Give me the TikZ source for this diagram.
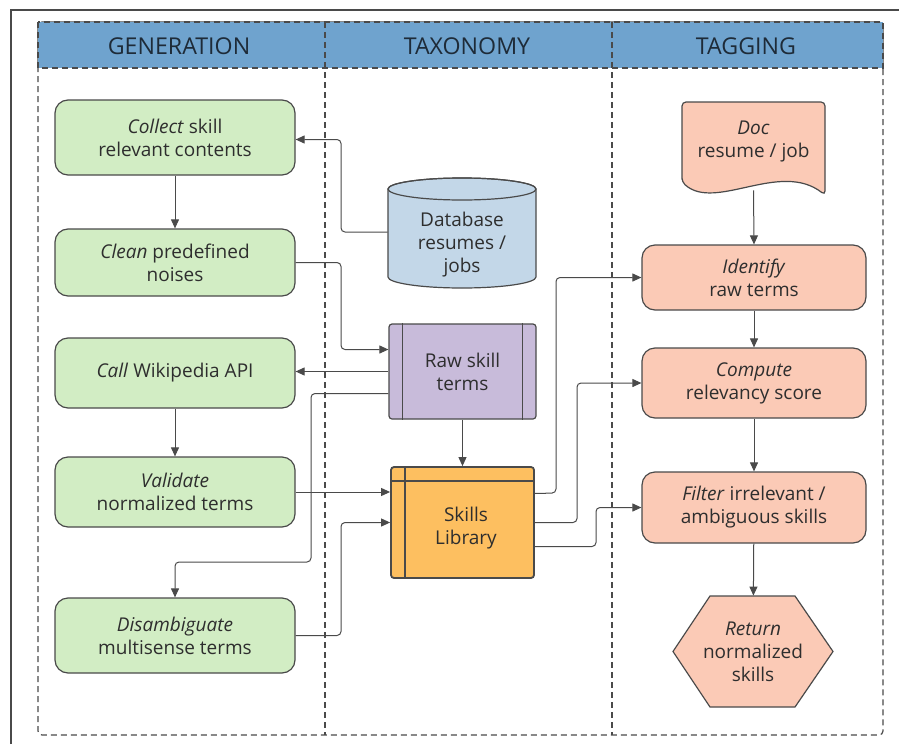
\documentclass[tikz,border=0pt]{standalone}
\usepackage{fontspec}
\setmainfont{Open Sans}
\usetikzlibrary{arrows.meta}
\usetikzlibrary{calc}

\definecolor{laneblue}{HTML}{6FA3CE}
\definecolor{gengreen}{HTML}{D2EDC4}
\definecolor{dbblue}{HTML}{C3D7E8}
\definecolor{rawpurple}{HTML}{C8BBDA}
\definecolor{liborange}{HTML}{FDBF60}
\definecolor{tagsalmon}{HTML}{FBCAB6}
\definecolor{boxline}{HTML}{4A4A4A}
\definecolor{textgray}{HTML}{2E2E2E}
\definecolor{headtext}{HTML}{1E2B38}

\tikzset{
  txt/.style={align=center, text=textgray, font=\fontsize{9.5}{11.5}\selectfont},
  genbox/.style={txt, draw=boxline, fill=gengreen, line width=0.6pt, rounded corners=6.5pt, minimum width=120pt},
  tagbox/.style={txt, draw=boxline, fill=tagsalmon, line width=0.6pt, rounded corners=6.5pt, minimum width=112pt},
  lanedash/.style={draw=boxline, line width=0.6pt, dash pattern=on 3pt off 2pt},
  lanehead/.style={text=headtext, font=\fontsize{11.6}{13}\selectfont},
  conn/.style={draw=boxline, line width=0.5pt, rounded corners=2pt, -{Triangle[length=4.5pt,width=4pt]}},
}

\begin{document}
\begin{tikzpicture}[x=0.5pt,y=-0.5pt]
        \useasboundingbox (0,0) rectangle (899,744);
        \draw[boxline, line width=0.6pt] (11,744) -- (11,10) -- (899,10);
        \draw[lanedash, rounded corners=2pt] (38,22) rectangle (883,735);
        \filldraw[fill=laneblue, lanedash] (38,22) rectangle (883,68);
        \draw[lanedash] (325,22) -- (325,735);
        \draw[lanedash] (612,22) -- (612,735);
        \node[lanehead] (hgen) at (179,46) {GENERATION};
        \node[lanehead] (htax) at (467,46) {TAXONOMY};
        \node[lanehead] (htag) at (746,46) {TAGGING};

        \node[genbox, minimum height=37.5pt] (collect) at (175,137.5) {\textit{Collect} skill\\relevant contents};
        \node[genbox, minimum height=33.5pt] (clean) at (175,262.5) {\textit{Clean} predefined\\noises};
        \node[genbox, minimum height=35pt] (call) at (175,373) {\textit{Call} Wikipedia API};
        \node[genbox, minimum height=35pt] (validate) at (175,492) {\textit{Validate}\\normalized terms};
        \node[genbox, minimum height=37.5pt] (disamb) at (175,635.5) {\textit{Disambiguate}\\multisense terms};

        \filldraw[fill=dbblue, draw=boxline, line width=0.6pt] (388,189) -- (388,277) arc[start angle=180, end angle=360, x radius=37pt, y radius=5.5pt] -- (536,189) arc[start angle=0, end angle=180, x radius=37pt, y radius=5.5pt] -- cycle;
        \draw[boxline, line width=0.6pt] (462,189) ellipse[x radius=37pt, y radius=5.5pt];
        \node[txt, minimum width=74pt] (db) at (462,245) {Database\\resumes /\\jobs};

        \node[txt, draw=boxline, fill=rawpurple, line width=0.6pt, rounded corners=1.5pt, minimum width=73.5pt, minimum height=47.5pt] (raw) at (462.5,371.5) {Raw skill\\terms};
        \draw[boxline, line width=0.6pt] ([xshift=7pt]raw.north west) -- ([xshift=7pt]raw.south west);
        \draw[boxline, line width=0.6pt] ([xshift=-7pt]raw.north east) -- ([xshift=-7pt]raw.south east);

        \node[draw=boxline, fill=liborange, line width=0.9pt, rounded corners=1.5pt, minimum width=71.5pt, minimum height=55.5pt] (lib) at (462.5,522.5) {};
        \draw[boxline, line width=0.9pt] ([xshift=7.5pt]lib.north west) -- ([xshift=7.5pt]lib.south west);
        \draw[boxline, line width=0.9pt] ([yshift=-7.5pt]lib.north west) -- ([yshift=-7.5pt]lib.north east);
        \node[txt] (libtext) at (466,528) {Skills\\Library};

        \filldraw[fill=tagsalmon, draw=boxline, line width=0.6pt, rounded corners=2pt] (682,182) -- (682,102) -- (825,102) -- (825,195) .. controls (780,160) and (715,212) .. (682,182) -- cycle;
        \node[txt, minimum width=71.5pt, minimum height=49pt] (doc) at (753.5,141) {\textit{Doc}\\resume / job};
        \node[tagbox, minimum height=32.5pt] (identify) at (754,277.5) {\textit{Identify}\\raw terms};
        \node[tagbox, minimum height=35pt] (compute) at (754,383) {\textit{Compute}\\relevancy score};
        \node[tagbox, minimum height=35.5pt] (filter) at (754,507.5) {\textit{Filter} irrelevant /\\ambiguous skills};
        \filldraw[fill=tagsalmon, draw=boxline, line width=0.6pt] (710,596) -- (795,596) -- (833,651.5) -- (795,707) -- (710,707) -- (673,651.5) -- cycle;
        \node[txt, minimum width=80pt, minimum height=55.5pt] (ret) at (753,651.5) {\textit{Return}\\normalized\\skills};

        \draw[conn] (collect) -- (clean);
        \draw[conn] ([yshift=6.5pt]db.west) -- (341,232) |- ([yshift=-1pt]collect.east);
        \draw[conn] (clean.east) -- (341,262.5) |- ([yshift=11pt]raw.west);
        \draw[conn] (raw.west) -- (raw.west -| call.east);
        \draw[conn] ([yshift=-11pt]raw.west) -| (311,562) -| (disamb.north);
        \draw[conn] (call) -- (validate);
        \draw[conn] (raw) -- (lib);
        \draw[conn] (validate.east) -- (validate.east -| lib.west);
        \draw[conn] (disamb.east) -- (341,635.5) |- (lib.west);
        \draw[conn] ([yshift=14.5pt]lib.east) -- (556,493) |- (identify.west);
        \draw[conn] (lib.east) -- (577,522.5) |- (compute.west);
        \draw[conn] ([yshift=-12pt]lib.east) -- (596,546.5) |- (filter.west);
        \draw[conn] (doc.south) -- (identify.north);
        \draw[conn] (identify) -- (compute);
        \draw[conn] (compute) -- (filter);
        \draw[conn] (filter) -- (ret);
    \end{tikzpicture}
\end{document}
